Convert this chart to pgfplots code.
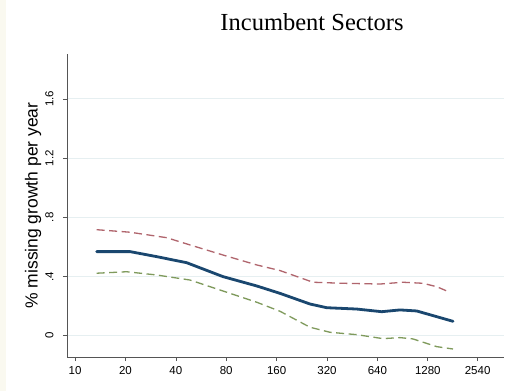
\documentclass[border=0pt]{standalone}
\usepackage{pgfplots}
\pgfplotsset{compat=1.18}
\usepackage{fontspec}
\setmainfont{Liberation Sans}
\newfontfamily\titlefont{Liberation Serif}
\definecolor{navy}{HTML}{1A476F}
\definecolor{dred}{HTML}{B0656D}
\definecolor{dgreen}{HTML}{7F9A5C}
\definecolor{gridc}{HTML}{E6EFF1}
\definecolor{cream}{HTML}{FAF9F0}
\definecolor{axc}{HTML}{555555}
\begin{document}
\begin{tikzpicture}[x=1pt,y=1pt]
\fill[white] (0,0) rectangle (517,391);
\fill[cream] (0,0) rectangle (6,391);
\begin{axis}[
  at={(67pt,34pt)}, anchor=south west,
  scale only axis, width=437pt, height=303pt,
  xmin=3.163, xmax=11.834, ymin=-0.144, ymax=1.903,
  axis x line=bottom, axis y line=left,
  axis line style={axc, line width=0.8pt, -},
  tick align=outside, major tick length=4pt,
  tick style={axc, line width=0.6pt},
  xtick={3.3219,4.3219,5.3219,6.3219,7.3219,8.3219,9.3219,10.3219,11.3107},
  xticklabels={10,20,40,80,160,320,640,1280,2540},
  ytick={0,0.4,0.8,1.2,1.6},
  yticklabels={0,.4,.8,1.2,1.6},
  ymajorgrids, grid style={gridc, line width=0.9pt},
  /pgf/number format/assume math mode=true,
  ticklabel style={font=\fontsize{11.5}{13}\selectfont, black},
  yticklabel style={rotate=90, anchor=south, yshift=6pt},
  xticklabel style={anchor=north, yshift=-1.5pt},
  every axis y label/.style={at={(axis description cs:0,0.5)}, xshift=-34pt, rotate=90, anchor=center, font=\fontsize{17.5}{20}\selectfont},
  ylabel={\% missing growth per year},
  clip=false,
]
\addplot[dred, line width=1.3pt, dash pattern=on 8pt off 4.5pt] coordinates {
(3.752,0.716) (4.413,0.699) (5.141,0.662) (5.604,0.613) (6.258,0.545) (6.927,0.478)
(7.389,0.440) (8.044,0.361) (8.639,0.354) (9.373,0.349) (9.830,0.361) (10.226,0.354)
(10.498,0.331) (10.762,0.293)};
\addplot[dgreen, line width=1.3pt, dash pattern=on 8pt off 4.5pt] coordinates {
(3.752,0.422) (4.348,0.432) (4.943,0.410) (5.604,0.376) (6.258,0.302) (6.927,0.226)
(7.389,0.165) (7.984,0.057) (8.381,0.023) (8.911,0.007) (9.433,-0.020) (9.770,-0.013)
(10.028,-0.022) (10.498,-0.074) (10.822,-0.090)};
\addplot[navy, line width=2.8pt, line join=round, line cap=round] coordinates {
(3.752,0.568) (4.413,0.568) (4.943,0.534) (5.538,0.493) (6.258,0.399) (6.927,0.336)
(7.389,0.286) (7.984,0.214) (8.316,0.189) (8.911,0.180) (9.407,0.162) (9.770,0.174)
(10.102,0.167) (10.822,0.097)};
\end{axis}
\node[font=\titlefont\fontsize{24.5}{28}\selectfont, anchor=center] at (312,369) {Incumbent Sectors};
\end{tikzpicture}
\end{document}
